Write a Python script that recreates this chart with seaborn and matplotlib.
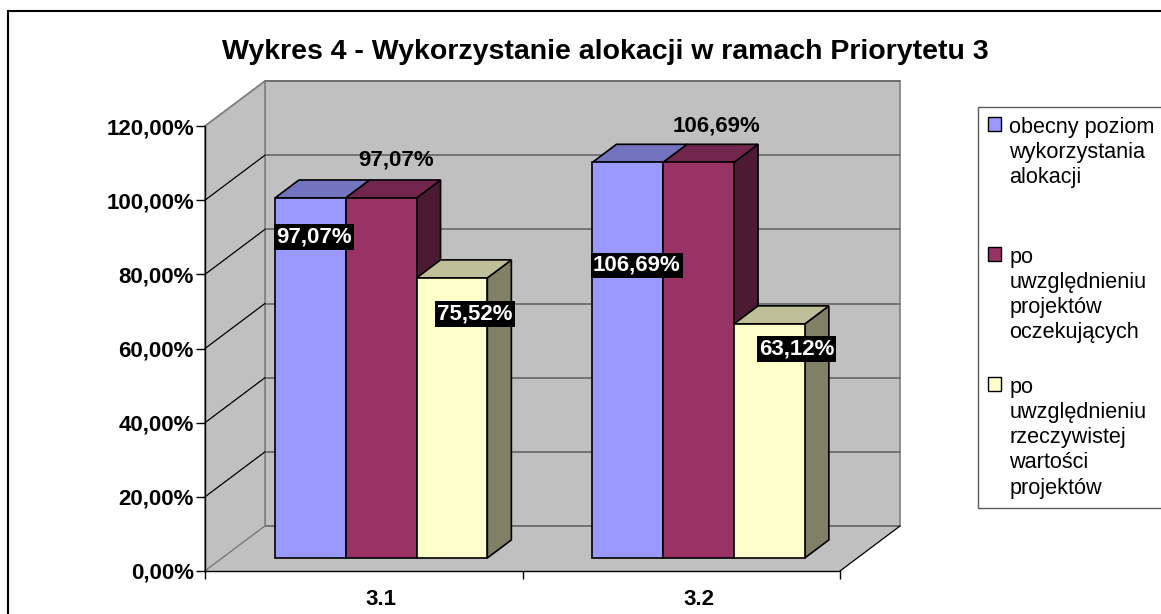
import numpy as np
import pandas as pd
import matplotlib
matplotlib.use("Agg")
import matplotlib.pyplot as plt
import matplotlib.patches as mpatches
import matplotlib.ticker as mtick
import matplotlib.transforms as mtransforms
import seaborn as sns

# dane z wykresu
kategorie = ["3.1", "3.2"]
serie = [
    "obecny poziom\nwykorzystania\nalokacji",
    "po\nuwzględnieniu\nprojektów\noczekujących",
    "po\nuwzględnieniu\nrzeczywistej\nwartości\nprojektów",
]
obecny_poziom = [97.07, 106.69]
projekty_oczekujace = [97.07, 106.69]
wartosc_rzeczywista = [75.52, 63.12]
y_ticks = [0, 20, 40, 60, 80, 100, 120]
tytul = "Wykres 4 - Wykorzystanie alokacji w ramach Priorytetu 3"

kolory = ["#9999FF", "#993366", "#FFFFCC"]

df = pd.DataFrame({
    "kategoria": kategorie * 3,
    "seria": np.repeat(serie, len(kategorie)),
    "wartosc": obecny_poziom + projekty_oczekujace + wartosc_rzeczywista,
})

sns.set_style("white")
plt.rcParams["font.family"] = ["Liberation Sans", "DejaVu Sans"]
for k in ["text.color", "axes.labelcolor", "xtick.color", "ytick.color"]:
    plt.rcParams[k] = "black"

W, H = 1161, 614
fig = plt.figure(figsize=(W / 100, H / 100), dpi=100)

# przednia plaszczyzna osi w pikselach + glebokosc "3D"
X_L, X_R = 205, 840
Y_B, Y_T = 571, 126
DEPTH_PX = (60, 45)
ax = fig.add_axes([X_L / W, (H - Y_B) / H,
                   (X_R - X_L + DEPTH_PX[0]) / W, (Y_B - Y_T + DEPTH_PX[1]) / H])

sns.barplot(data=df, x="kategoria", y="wartosc", hue="seria", palette=kolory,
            width=0.669, saturation=1, errorbar=None, edgecolor="black",
            linewidth=1.2, legend=False, ax=ax)

ymax = y_ticks[-1]
ncat = len(kategorie)
DXU = DEPTH_PX[0] / ((X_R - X_L) / ncat)
DYU = DEPTH_PX[1] / ((Y_B - Y_T) / ymax)
ax.set_xlim(-0.5, ncat - 0.5 + DXU)
ax.set_ylim(0, ymax + DYU)

ZF, ZB = 0.29, 0.69  # glebokosc przodu i tylu slupkow


def proj(x, y, z):
    return (x + z * DXU, y + z * DYU)


xa, xb = -0.5, ncat - 0.5
wall = "#C0C0C0"
edge_grey = "#808080"
# sciany i podloga
ax.add_patch(mpatches.Polygon([proj(xa, 0, 1), proj(xb, 0, 1), proj(xb, ymax, 1), proj(xa, ymax, 1)],
                              closed=True, fc=wall, ec=edge_grey, lw=1.2, zorder=0, clip_on=False))
ax.add_patch(mpatches.Polygon([proj(xa, 0, 0), proj(xa, ymax, 0), proj(xa, ymax, 1), proj(xa, 0, 1)],
                              closed=True, fc=wall, ec=edge_grey, lw=1.2, zorder=0, clip_on=False))
ax.add_patch(mpatches.Polygon([proj(xa, 0, 0), proj(xb, 0, 0), proj(xb, 0, 1), proj(xa, 0, 1)],
                              closed=True, fc=wall, ec="none", zorder=0, clip_on=False))
for t in y_ticks:
    p1, p2 = proj(xa, t, 1), proj(xb, t, 1)
    ax.plot([p1[0], p2[0]], [p1[1], p2[1]], color="#6E6E6E", lw=1.3, zorder=0.5, clip_on=False)
    p0 = proj(xa, t, 0)
    c = "black" if 0 < t < ymax else edge_grey
    ax.plot([p0[0], p1[0]], [p0[1], p1[1]], color=c, lw=0.9, zorder=0.5, clip_on=False)
f1, f2 = proj(xb, 0, 0), proj(xb, 0, 1)
ax.plot([f1[0], f2[0]], [f1[1], f2[1]], color="black", lw=0.9, zorder=0.5, clip_on=False)

# slupki: przod przesuniety w glab, do tego gora i bok
tf_front = mtransforms.Affine2D().translate(ZF * DXU, ZF * DYU) + ax.transData
bars = []
for si, cont in enumerate(ax.containers):
    rgb = np.array(matplotlib.colors.to_rgb(kolory[si]))
    for ci, p in enumerate(cont.patches):
        x0, w, h = p.get_x(), p.get_width(), p.get_height()
        base = 3 + si * 3
        p.set_transform(tf_front)
        p.set_zorder(base + 2)
        side = [proj(x0 + w, 0, ZF), proj(x0 + w, h, ZF), proj(x0 + w, h, ZB), proj(x0 + w, 0, ZB)]
        top = [proj(x0, h, ZF), proj(x0 + w, h, ZF), proj(x0 + w, h, ZB), proj(x0, h, ZB)]
        ax.add_patch(mpatches.Polygon(side, closed=True, fc=rgb * 0.5, ec="black", lw=1.2, zorder=base))
        ax.add_patch(mpatches.Polygon(top, closed=True, fc=rgb * 0.75, ec="black", lw=1.2, zorder=base + 1))
        bars.append((si, ci, x0 + w / 2, h))

# etykiety danych (przesuniecia w pikselach, jak w Excelu)
label_offsets = {0: [(4, 39), (9, 103)], 1: [(15, -38), (18, -36)], 2: [(23, 36), (27, 25)]}
for si, ci, xc, h in bars:
    dx, dy = label_offsets[si][ci]
    txt = f"{h:.2f}".replace(".", ",") + "%"
    if si == 1:
        ax.annotate(txt, xy=(xc, h), xycoords=tf_front, xytext=(dx, -dy), textcoords="offset pixels",
                    ha="center", va="center", fontsize=16, fontweight="bold", color="black", zorder=20)
    else:
        ax.annotate(txt, xy=(xc, h), xycoords=tf_front, xytext=(dx, -dy), textcoords="offset pixels",
                    ha="center", va="center", fontsize=16, fontweight="bold", color="white", zorder=20,
                    bbox=dict(boxstyle="square,pad=0.1", fc="black", ec="none"))

# osie
for s in ["top", "right"]:
    ax.spines[s].set_visible(False)
ax.spines["left"].set_bounds(0, ymax)
ax.spines["bottom"].set_bounds(xa, xb)
for s in ["left", "bottom"]:
    ax.spines[s].set_color("black")
    ax.spines[s].set_linewidth(1.0)
    ax.spines[s].set_zorder(2)
ax.set_yticks(y_ticks)
ax.yaxis.set_major_formatter(mtick.FuncFormatter(lambda v, _: f"{v:.2f}".replace(".", ",") + "%"))
ax.tick_params(axis="y", direction="out", length=6.5, width=1, pad=1.5, labelsize=16, left=True)
ax.set_xticks([xa + i for i in range(ncat + 1)])
ax.set_xticklabels([""] * (ncat + 1))
ax.set_xticks([i + ZF * DXU for i in range(ncat)], minor=True)
ax.set_xticklabels(kategorie, minor=True)
ax.tick_params(axis="x", which="major", direction="out", length=5.8, width=1, bottom=True)
ax.tick_params(axis="x", which="minor", length=0, pad=13, labelsize=16)
for lab in ax.get_yticklabels() + ax.get_xticklabels(minor=True):
    lab.set_fontweight("bold")
ax.set_xlabel("")
ax.set_ylabel("")
ax.grid(False)
ax.set_facecolor("none")

fig.text(605 / W, 1 - 52 / H, tytul, ha="center", va="center", fontsize=20.5, fontweight="bold")

# legenda
handles = [mpatches.Patch(facecolor=c, edgecolor="black", linewidth=1.0) for c in kolory]
labels = [serie[0] + "\n"] + serie[1:]
leg = fig.legend(handles, labels, loc="upper left", bbox_to_anchor=(978 / W, 1 - 107 / H),
                 borderaxespad=0, frameon=True, fancybox=False, edgecolor="#333333",
                 fontsize=15.6, handlelength=0.6, handleheight=0.6, handletextpad=0.4,
                 borderpad=0.45, labelspacing=1.55)
leg.get_frame().set_linewidth(1.0)
for t in leg.get_texts():
    t.set_linespacing(1.26)
for col in leg._legend_handle_box.get_children():
    for row in col.get_children():
        row.align = "top"

# ramka calego wykresu
fig.patches.append(mpatches.Rectangle((8 / W, -0.1), 1.2, 1 - 11 / H + 0.1, transform=fig.transFigure,
                                      fill=False, ec="black", lw=1.5))

fig.savefig("out.png", dpi=100)
